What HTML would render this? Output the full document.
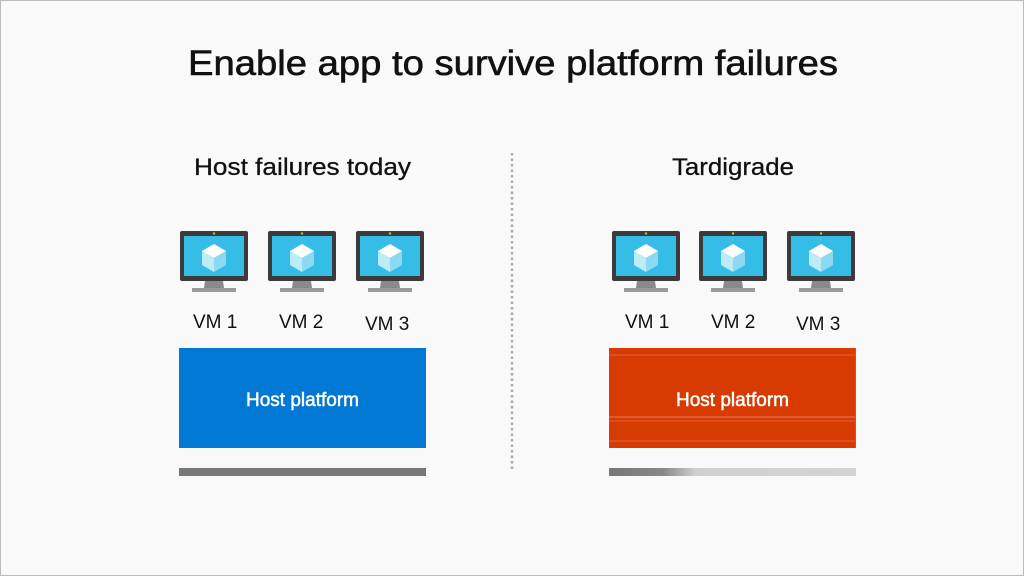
<!DOCTYPE html>
<html><head><style>
html,body{margin:0;padding:0;background:#f9f9f9;}
svg{display:block;font-family:"Liberation Sans",sans-serif;}
</style></head><body>
<svg width="1024" height="576" viewBox="0 0 1024 576" xmlns="http://www.w3.org/2000/svg">
<defs>
<g id="mon">
<rect x="0" y="0" width="68" height="50" rx="2" fill="#3b3b3b"/>
<rect x="4" y="5" width="60" height="40" fill="#35bde8"/>
<circle cx="34" cy="2.5" r="1.2" fill="#c8b84a"/>
<polygon points="25,50 43,50 44,57 24,57" fill="#8a8a8a"/>
<rect x="12" y="57" width="44" height="4" fill="#9a9a9a"/>
<polygon points="34,13 46,20 34,27 22,20" fill="#ffffff"/>
<polygon points="22,20 34,27 34,41 22,34" fill="#bdebf8"/>
<polygon points="46,20 34,27 34,41 46,34" fill="#8bd9f2"/>
</g>
<linearGradient id="gb" x1="0" x2="1" y1="0" y2="0">
<stop offset="0" stop-color="#777"/>
<stop offset="0.22" stop-color="#888"/>
<stop offset="0.35" stop-color="#cfcfcf"/>
<stop offset="1" stop-color="#d4d4d4"/>
</linearGradient>
</defs>
<rect x="0" y="0" width="1024" height="576" fill="#f9f9f9"/>
<rect x="0.5" y="0.5" width="1023" height="575" fill="none" stroke="#bbb"/>
<text x="188" y="75" font-size="35" textLength="650" lengthAdjust="spacingAndGlyphs" fill="#111" stroke="#111" stroke-width="0.6">Enable app to survive platform failures</text>
<text x="194" y="175" font-size="24" textLength="217" lengthAdjust="spacingAndGlyphs" fill="#111" stroke="#111" stroke-width="0.3">Host failures today</text>
<text x="672" y="175" font-size="24" textLength="122" lengthAdjust="spacingAndGlyphs" fill="#111" stroke="#111" stroke-width="0.3">Tardigrade</text>
<line x1="512" y1="153" x2="512" y2="470" stroke="#aaa" stroke-width="2.5" stroke-dasharray="2.5,3"/>
<use href="#mon" x="180" y="231"/>
<use href="#mon" x="268" y="231"/>
<use href="#mon" x="356" y="231"/>
<use href="#mon" x="612" y="231"/>
<use href="#mon" x="699" y="231"/>
<use href="#mon" x="787" y="231"/>
<g font-size="19" fill="#111">
<text x="193" y="328">VM 1</text>
<text x="279" y="328">VM 2</text>
<text x="365" y="330">VM 3</text>
<text x="625" y="328">VM 1</text>
<text x="711" y="328">VM 2</text>
<text x="796" y="330">VM 3</text>
</g>
<rect x="179" y="348" width="247" height="100" fill="#0078d4"/>
<text x="302.5" y="406" font-size="19" fill="#fff" stroke="#fff" stroke-width="0.5" text-anchor="middle">Host platform</text>
<rect x="179" y="468" width="247" height="8" fill="#777"/>
<rect x="609" y="348" width="247" height="100" fill="#d83b01"/>
<line x1="609" y1="355" x2="856" y2="355" stroke="#e0603a" stroke-width="1"/>
<line x1="609" y1="417" x2="856" y2="417" stroke="#e87a55" stroke-width="1"/>
<line x1="609" y1="421" x2="856" y2="421" stroke="#e0603a" stroke-width="1"/>
<line x1="609" y1="441" x2="856" y2="441" stroke="#e0603a" stroke-width="1"/>
<line x1="855.5" y1="348" x2="855.5" y2="448" stroke="#a86a10" stroke-width="1"/>
<text x="732.5" y="406" font-size="19" fill="#fff" stroke="#fff" stroke-width="0.5" text-anchor="middle">Host platform</text>
<rect x="609" y="468" width="247" height="8" fill="url(#gb)"/>
</svg>
</body></html>
